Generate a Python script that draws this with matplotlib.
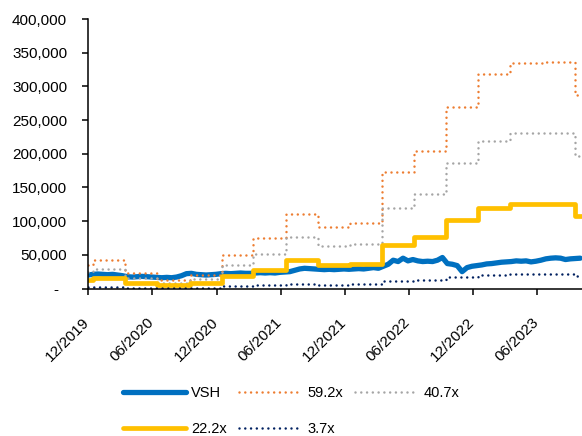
import matplotlib.pyplot as plt
import matplotlib.dates as mdates
import matplotlib.transforms as mtransforms
from matplotlib.ticker import FuncFormatter
import pandas as pd

plt.rcParams['font.family'] = ['Liberation Sans', 'DejaVu Sans']

# VSH close, every two weeks from 01/12/2019
vsh_start = '2019-12-01'
vsh_price = [
    20000, 21000, 21500, 21000, 20500, 21000, 20000, 19000, 17500, 17000,
    17500, 18000, 17500, 17000, 16500, 16000, 16500, 16000, 17000, 19000,
    22000, 22500, 21000, 20500, 20000, 20500, 21000, 22000, 22500, 22000,
    22500, 23000, 22500, 22500, 23000, 23500, 23000, 23500, 23000, 24000,
    24500, 25000, 27000, 29000, 30000, 29500, 29000, 28500, 28000, 28500,
    28000, 28500, 29000, 28500, 29000, 29500, 29000, 30000, 31000, 30000,
    33000, 36000, 42000, 40000, 45000, 41000, 43000, 41000, 40000, 40500,
    40000, 42000, 46000, 37000, 36000, 34000, 25000, 31000, 33000, 34000,
    35000, 36500, 37000, 38000, 39000, 39500, 40000, 41000, 40500, 41000,
    39500, 40500, 42000, 44000, 45000, 45500, 45000, 43000, 44000, 44500,
    45000,
]

# trailing EPS, changes each quarter
eps_dates = ['2019-12-01', '2019-12-15', '2020-03-15', '2020-06-15', '2020-09-15',
             '2020-12-15', '2021-03-15', '2021-06-15', '2021-09-15', '2021-12-15',
             '2022-03-15', '2022-06-15', '2022-09-15', '2022-12-15', '2023-03-15',
             '2023-06-15', '2023-09-15', '2023-10-06']
eps = [591, 709, 380, 211, 346, 845, 1267, 1875, 1554, 1639, 2922, 3446,
       4561, 5372, 5659, 5676, 4848, 4848]

multiples = [59.2, 40.7, 22.2, 3.7]
band_colors = ['#ED7D31', '#A5A5A5', '#FFC000', '#002060']

dates = pd.date_range(vsh_start, periods=len(vsh_price), freq='14D')
eps_dates = pd.to_datetime(eps_dates)

fig = plt.figure(figsize=(5.82, 4.36), dpi=100)
ax = fig.add_axes([0.1512, 0.3383, 0.8488, 0.6181])

handles = {}
handles['VSH'], = ax.plot(dates, vsh_price, color='#0070C0', lw=3.8,
                          solid_capstyle='round', solid_joinstyle='round')
for m, c in zip(multiples, band_colors):
    band = [e * m for e in eps]
    if m == 22.2:
        line, = ax.step(eps_dates, band, where='post', color=c, lw=3.4,
                        solid_capstyle='round')
    else:
        # round dots
        line, = ax.step(eps_dates, band, where='post', color=c, lw=1.8,
                        linestyle=(0, (0.01, 2.3)), dash_capstyle='round')
    handles['%.1fx' % m] = line

ax.set_ylim(0, 400000)
ax.set_xlim(pd.Timestamp('2019-12-01'), pd.Timestamp('2023-10-06'))
ax.yaxis.set_major_locator(plt.MultipleLocator(50000))
ax.yaxis.set_major_formatter(FuncFormatter(lambda v, p: '-  ' if v == 0 else '{:,.0f}'.format(v)))
ax.xaxis.set_major_locator(mdates.MonthLocator(bymonth=[6, 12], bymonthday=1))
ax.xaxis.set_major_formatter(mdates.DateFormatter('%m/%Y'))

for s in ['top', 'right']:
    ax.spines[s].set_visible(False)
for s in ['left', 'bottom']:
    ax.spines[s].set_linewidth(1.1)
ax.tick_params(axis='y', length=4, width=1.1, pad=11, labelsize=11)
ax.tick_params(axis='x', length=4, width=1.1, pad=15, labelsize=11)
shift = mtransforms.ScaledTranslation(4 / 100, 0, fig.dpi_scale_trans)
for lab in ax.get_xticklabels():
    lab.set_rotation(45)
    lab.set_ha('right')
    lab.set_transform(lab.get_transform() + shift)

order = ['VSH', '22.2x', '59.2x', '3.7x', '40.7x']
fig.legend([handles[k] for k in order], order, loc='upper center',
           bbox_to_anchor=(0.5, 0.145), ncol=3, frameon=False,
           fontsize=10.5, handlelength=4.3, handletextpad=0.4,
           columnspacing=0.8, labelspacing=1.5)

fig.savefig('out.png', dpi=100)
